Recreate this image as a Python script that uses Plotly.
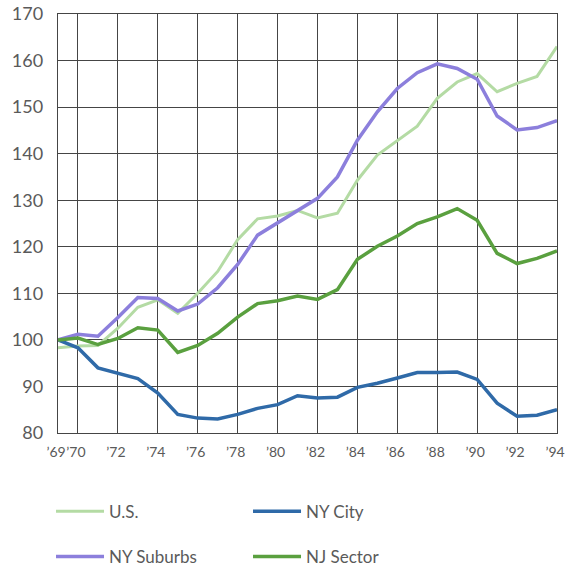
import plotly.graph_objects as go

years = list(range(1969, 1995))
us = [98.3, 98.7, 98.8, 102.5, 107.0, 108.6, 105.7, 110.0, 114.7, 121.5, 126.0, 126.6, 127.8,
      126.2, 127.2, 134.3, 139.7, 142.9, 145.9, 151.9, 155.4, 157.2, 153.3, 155.1, 156.6, 163.0]
ny_city = [100.0, 98.3, 94.0, 92.8, 91.7, 88.6, 84.0, 83.2, 83.0, 84.0, 85.3, 86.1, 88.0,
           87.5, 87.7, 89.8, 90.7, 91.8, 93.0, 93.0, 93.1, 91.5, 86.4, 83.6, 83.8, 85.0]
ny_suburbs = [100.0, 101.2, 100.8, 104.8, 109.1, 108.9, 106.2, 107.7, 111.2, 116.2, 122.5, 125.1, 127.9,
              130.4, 135.0, 142.9, 149.0, 154.0, 157.4, 159.3, 158.3, 156.0, 148.1, 145.1, 145.6, 147.1]
nj_sector = [100.0, 100.4, 99.0, 100.3, 102.6, 102.1, 97.3, 98.8, 101.4, 104.9, 107.8, 108.4, 109.4,
             108.7, 110.8, 117.3, 120.1, 122.3, 125.0, 126.4, 128.2, 125.7, 118.6, 116.4, 117.5, 119.1]

tick_vals = [1969, 1970, 1972, 1974, 1976, 1978, 1980, 1982, 1984, 1986, 1988, 1990, 1992, 1994]
tick_text = ["\u201969", "\u201970", "\u201972", "\u201974", "\u201976", "\u201978", "\u201980",
             "\u201982", "\u201984", "\u201986", "\u201988", "\u201990", "\u201992", "\u201994"]
y_ticks = [80, 90, 100, 110, 120, 130, 140, 150, 160, 170]

FONT = "Lato, 'Noto Sans', sans-serif"
GRID = "#454545"

fig = go.Figure()
fig.add_trace(go.Scatter(x=years, y=us, mode="lines", name="U.S.",
                         line=dict(color="#b4dba4", width=3), legend="legend"))
fig.add_trace(go.Scatter(x=years, y=ny_city, mode="lines", name="NY City",
                         line=dict(color="#2f6aa8", width=3.5), legend="legend"))
fig.add_trace(go.Scatter(x=years, y=ny_suburbs, mode="lines", name="NY Suburbs",
                         line=dict(color="#8c7fdc", width=3.5), legend="legend2"))
fig.add_trace(go.Scatter(x=years, y=nj_sector, mode="lines", name="NJ Sector",
                         line=dict(color="#5aa03f", width=3.5), legend="legend2"))

legend_common = dict(orientation="h", xanchor="left", yanchor="middle",
                     font=dict(family=FONT, size=17, color="#5a5a5a"),
                     entrywidth=134, entrywidthmode="pixels", itemwidth=48,
                     bgcolor="rgba(0,0,0,0)", traceorder="normal")

fig.update_layout(
    width=567, height=575,
    margin=dict(l=58, r=10, t=14, b=142, autoexpand=False),
    paper_bgcolor="white", plot_bgcolor="white",
    font=dict(family=FONT, size=16, color="#5a5a5a"),
    showlegend=True,
    legend=dict(x=-0.014, y=-0.188, **legend_common),
    legend2=dict(x=-0.014, y=-0.296, **legend_common),
    xaxis=dict(range=[1969, 1994], tickvals=tick_vals, ticktext=tick_text, tickangle=0,
               ticklabeloverflow="allow", ticklabelstandoff=6, ticklabelshift=-2,
               showgrid=True, gridcolor=GRID, gridwidth=1.4,
               showline=True, linecolor=GRID, linewidth=1.4, mirror=True,
               ticks="", zeroline=False, tickfont=dict(size=14, color="#5a5a5a")),
    yaxis=dict(range=[80, 170], tickvals=y_ticks, ticklabelstandoff=10,
               ticklabeloverflow="allow",
               showgrid=True, gridcolor=GRID, gridwidth=1.4,
               showline=True, linecolor=GRID, linewidth=1.4, mirror=True,
               ticks="", zeroline=False, tickfont=dict(size=18, color="#5a5a5a")),
)

fig.write_html("out.html", config={"displayModeBar": False},
               post_script="document.body.style.margin='0px';document.body.style.overflow='hidden';")
